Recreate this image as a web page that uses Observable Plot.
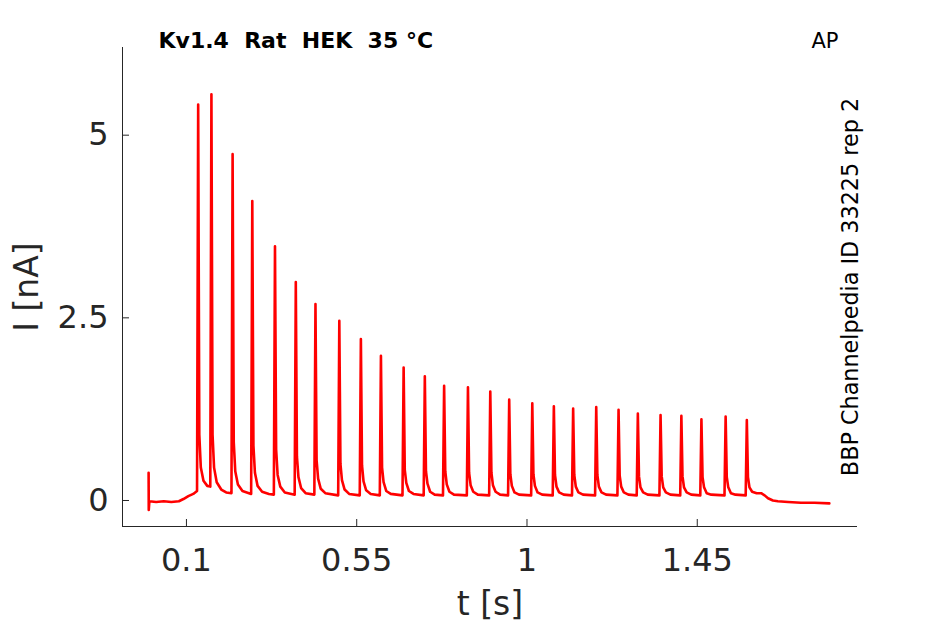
<!DOCTYPE html>
<html>
<head>
<meta charset="utf-8">
<script src="https://cdn.jsdelivr.net/npm/d3@7"></script>
<script src="https://cdn.jsdelivr.net/npm/@observablehq/plot@0.6"></script>
<style>
  html, body { margin: 0; padding: 0; background: #fff; }
  #chart { width: 945px; height: 624px; }
</style>
</head>
<body>
<div id="chart"></div>
<script>
const trace = [
  [0,0.38],[0.0004,-0.13],[0.002,-0.01],[0.02,-0.02],[0.04,-0.01],[0.06,-0.02],[0.08,-0.01],[0.092,0.02],[0.105,0.06],[0.118,0.09],[0.128,0.13],
  [0.131,5.42],[0.134,0.9],[0.138,0.45],[0.145,0.27],[0.155,0.2],[0.163,0.19],
  [0.166,5.56],[0.169,0.9],[0.173,0.45],[0.18,0.25],[0.192,0.15],[0.205,0.11],[0.219,0.1],
  [0.222,4.74],[0.225,0.8],[0.229,0.4],[0.236,0.22],[0.248,0.13],[0.271,0.09],
  [0.274,4.10],[0.277,0.75],[0.281,0.38],[0.288,0.2],[0.30,0.12],[0.318,0.09],[0.331,0.08],
  [0.334,3.48],[0.337,0.7],[0.341,0.35],[0.348,0.19],[0.36,0.11],[0.386,0.08],
  [0.389,2.99],[0.392,0.6],[0.396,0.32],[0.403,0.17],[0.415,0.1],[0.438,0.08],
  [0.441,2.69],[0.444,0.55],[0.448,0.3],[0.455,0.16],[0.467,0.1],[0.501,0.07],
  [0.504,2.46],[0.507,0.5],[0.511,0.28],[0.518,0.15],[0.53,0.09],[0.558,0.07],
  [0.561,2.21],[0.564,0.48],[0.568,0.26],[0.575,0.14],[0.587,0.09],[0.611,0.07],
  [0.614,1.98],[0.617,0.45],[0.621,0.25],[0.628,0.13],[0.64,0.09],[0.671,0.07],
  [0.674,1.82],[0.677,0.42],[0.681,0.24],[0.688,0.13],[0.70,0.09],[0.727,0.07],
  [0.730,1.70],[0.733,0.4],[0.737,0.23],[0.744,0.12],[0.756,0.08],[0.778,0.07],
  [0.781,1.57],[0.784,0.4],[0.788,0.22],[0.795,0.12],[0.807,0.08],[0.841,0.07],
  [0.844,1.55],[0.847,0.38],[0.851,0.21],[0.858,0.12],[0.87,0.08],[0.90,0.07],
  [0.903,1.49],[0.906,0.38],[0.91,0.21],[0.917,0.12],[0.929,0.08],[0.95,0.07],
  [0.953,1.38],[0.956,0.36],[0.96,0.2],[0.967,0.11],[0.979,0.08],[1.011,0.07],
  [1.014,1.33],[1.017,0.36],[1.021,0.2],[1.028,0.11],[1.04,0.08],[1.068,0.07],
  [1.071,1.29],[1.074,0.35],[1.078,0.19],[1.085,0.11],[1.097,0.08],[1.119,0.07],
  [1.122,1.26],[1.125,0.35],[1.129,0.19],[1.136,0.11],[1.148,0.08],[1.18,0.07],
  [1.183,1.28],[1.186,0.35],[1.19,0.19],[1.197,0.11],[1.209,0.08],[1.239,0.07],
  [1.242,1.24],[1.245,0.34],[1.249,0.19],[1.256,0.11],[1.268,0.08],[1.29,0.07],
  [1.293,1.19],[1.296,0.33],[1.30,0.18],[1.307,0.11],[1.319,0.08],[1.35,0.07],
  [1.353,1.17],[1.356,0.33],[1.36,0.18],[1.367,0.11],[1.379,0.08],[1.405,0.07],
  [1.408,1.16],[1.411,0.33],[1.415,0.18],[1.422,0.11],[1.434,0.08],[1.458,0.07],
  [1.461,1.11],[1.464,0.32],[1.468,0.18],[1.475,0.1],[1.487,0.08],[1.522,0.07],
  [1.525,1.15],[1.528,0.32],[1.532,0.18],[1.539,0.1],[1.551,0.08],[1.578,0.07],
  [1.581,1.10],[1.584,0.32],[1.588,0.18],[1.595,0.12],[1.607,0.1],[1.619,0.1],
  [1.628,0.07],[1.637,0.03],[1.65,0.0],[1.663,-0.01],[1.69,-0.02],[1.724,-0.03],[1.76,-0.03],[1.799,-0.04]
];
const xTicks = [0.1, 0.55, 1, 1.45];
const yTicks = [0, 2.5, 5];
const xDomain = [-0.069, 1.8735];
const yDomain = [-0.356, 6.2];
const title = "Kv1.4\u00a0\u00a0Rat\u00a0\u00a0HEK\u00a0\u00a035\u00a0°C";
const cornerLabel = "AP";
const sideLabel = "BBP Channelpedia ID 33225 rep 2";
const xLabel = "t [s]";
const yLabel = "I [nA]";

const font = "DejaVu Sans";
const ink = "#262626";
const W = 945, H = 624, mL = 122, mR = 88, mT = 47, mB = 98;
const frameW = W - mL - mR, frameH = H - mT - mB, tickLen = 7;

const chart = Plot.plot({
  width: W,
  height: H,
  marginLeft: mL,
  marginRight: mR,
  marginTop: mT,
  marginBottom: mB,
  style: { fontFamily: font, background: "#fff", overflow: "visible" },
  x: { domain: xDomain },
  y: { domain: yDomain },
  marks: [
    Plot.ruleX([xDomain[0]], { stroke: ink, strokeWidth: 1 }),
    Plot.ruleY([yDomain[0]], { stroke: ink, strokeWidth: 1 }),
    // inward tick marks
    Plot.ruleX(xTicks, { x: d => d, insetTop: frameH - tickLen, stroke: ink, strokeWidth: 1 }),
    Plot.ruleY(yTicks, { y: d => d, insetRight: frameW - tickLen, stroke: ink, strokeWidth: 1 }),
    // tick labels
    Plot.axisX({ ticks: xTicks, tickFormat: d => String(d), tickSize: 0, tickPadding: 22,
      fontSize: 32, color: ink, label: null }),
    Plot.axisY({ ticks: yTicks, tickFormat: d => String(d), tickSize: 0, tickPadding: 14,
      fontSize: 32, color: ink, label: null }),
    Plot.line(trace, { x: d => d[0], y: d => d[1], stroke: "#ff0000", strokeWidth: 2.6,
      strokeLinejoin: "round", curve: "linear" }),
    Plot.text([xLabel], { frameAnchor: "bottom", dy: 78, lineAnchor: "middle", textAnchor: "middle",
      fontSize: 33, fill: ink, text: d => d }),
    Plot.text([yLabel], { frameAnchor: "left", dx: -95, rotate: -90, lineAnchor: "middle",
      textAnchor: "middle", fontSize: 33, fill: ink, text: d => d }),
    Plot.text([title], { frameAnchor: "top-left", dx: 36, dy: 0, lineAnchor: "bottom",
      textAnchor: "start", fontWeight: "bold", fontSize: 22, fill: "#000", text: d => d }),
    Plot.text([cornerLabel], { frameAnchor: "top-right", dx: -19, dy: 0, lineAnchor: "bottom",
      textAnchor: "end", fontSize: 21, fill: "#000", text: d => d }),
    Plot.text([sideLabel], { frameAnchor: "right", dx: -7, rotate: -90, lineAnchor: "middle",
      textAnchor: "middle", fontSize: 22.3, fill: "#000", text: d => d })
  ]
});
document.getElementById("chart").appendChild(chart);
</script>
</body>
</html>
